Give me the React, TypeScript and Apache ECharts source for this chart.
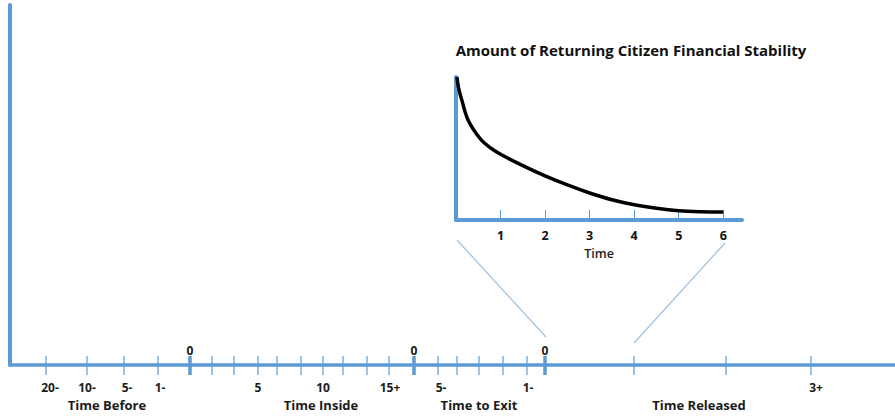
import React, { useEffect, useRef } from "react";
import * as echarts from "echarts";

// Main timeline (units: position along the timeline)
const tickPositions = [36, 77, 114, 148, 180, 202, 224, 248, 267, 291, 313, 333, 357, 379, 404, 428, 447, 469, 493, 517, 535, 624, 716, 801];
const tickMajor = [0, 0, 0, 0, 1, 0, 0, 0, 0, 0, 0, 0, 0, 0, 1, 0, 0, 0, 0, 0, 1, 0, 0, 0];
const tickLabelPositions = [40, 77, 117, 150, 248, 313, 380, 431, 518, 806];
const tickLabels = ["20-", "10-", "5-", "1-", "5", "10", "15+", "5-", "1-", "3+"];
const zeroLabelPositions = [180, 404, 535];
const zeroLabels = ["0", "0", "0"];
const groupLabelPositions = [97, 311, 469, 689];
const groupLabels = ["Time Before", "Time Inside", "Time to Exit", "Time Released"];
const connectorLeft = [[447, 125], [536, 28]];
const connectorRight = [[715, 122], [624, 22]];

// Inset: financial stability over time
const insetTitle = "Amount of Returning Citizen Financial Stability";
const insetTime = [0.02, 0.06, 0.13, 0.27, 0.54, 0.75, 1, 1.5, 2, 2.5, 3, 3.5, 4, 4.5, 5, 5.5, 6];
const insetStability = [10, 9.2, 8.39, 7.0, 5.7, 5.1, 4.6, 3.8, 3.08, 2.45, 1.89, 1.42, 1.07, 0.82, 0.65, 0.58, 0.56];
const insetTicks = [1, 2, 3, 4, 5, 6];

const BLUE = "#5b9bd5";
const FONT = "'Open Sans'";

export default function App() {
  const ref = useRef<HTMLDivElement>(null);
  useEffect(() => {
    const chart = echarts.init(ref.current!, null, { renderer: "svg" });
    const textSeries = (positions: number[], labels: string[], dy: number, size: number) => ({
      type: "custom",
      xAxisIndex: 0,
      yAxisIndex: 0,
      silent: true,
      clip: false,
      data: positions.map((p) => [p, 0]),
      renderItem: (params: any, api: any) => {
        const pt = api.coord([api.value(0), 0]);
        return {
          type: "text",
          x: pt[0],
          y: pt[1] + dy,
          style: {
            text: labels[params.dataIndex],
            fill: "#1a1a1a",
            font: `bold ${size}px ${FONT}`,
            align: "center",
            verticalAlign: "middle",
          },
        };
      },
    });
    chart.setOption({
      animation: false,
      title: {
        text: insetTitle,
        left: 626,
        top: 37,
        textAlign: "center",
        textStyle: { fontFamily: FONT, fontWeight: "bold", fontSize: 15, color: "#111" },
      },
      grid: [
        { left: 10, top: 5, right: 0, bottom: 54 },
        { left: 456, top: 77, width: 286, height: 143 },
      ],
      xAxis: [
        {
          type: "value",
          gridIndex: 0,
          min: 0,
          max: 885,
          axisLine: { show: true, lineStyle: { color: BLUE, width: 3.5 } },
          axisTick: { show: false },
          axisLabel: { show: false },
          splitLine: { show: false },
        },
        {
          type: "value",
          gridIndex: 1,
          min: 0,
          max: 6.42,
          axisLine: { show: true, lineStyle: { color: BLUE, width: 4 } },
          axisTick: { show: true, inside: true, length: 10, customValues: insetTicks, lineStyle: { color: BLUE, width: 1 } },
          axisLabel: {
            show: true,
            customValues: insetTicks,
            margin: 9,
            fontFamily: FONT,
            fontWeight: "bold",
            fontSize: 12.5,
            color: "#111",
          },
          splitLine: { show: false },
          name: "Time",
          nameLocation: "middle",
          nameGap: 27,
          nameTextStyle: { fontFamily: FONT, fontWeight: 600, fontSize: 12.5, color: "#222" },
        },
      ],
      yAxis: [
        {
          type: "value",
          gridIndex: 0,
          min: 0,
          max: 360,
          axisLine: { show: true, lineStyle: { color: BLUE, width: 4 } },
          axisTick: { show: false },
          axisLabel: { show: false },
          splitLine: { show: false },
        },
        {
          type: "value",
          gridIndex: 1,
          min: 0,
          max: 10,
          axisLine: { show: true, lineStyle: { color: BLUE, width: 4 } },
          axisTick: { show: false },
          axisLabel: { show: false },
          splitLine: { show: false },
        },
      ],
      series: [
        {
          type: "line",
          xAxisIndex: 0,
          yAxisIndex: 0,
          data: connectorLeft,
          showSymbol: false,
          silent: true,
          lineStyle: { color: "#9ec0e3", width: 1.2 },
        },
        {
          type: "line",
          xAxisIndex: 0,
          yAxisIndex: 0,
          data: connectorRight,
          showSymbol: false,
          silent: true,
          lineStyle: { color: "#9ec0e3", width: 1.2 },
        },
        {
          type: "custom",
          xAxisIndex: 0,
          yAxisIndex: 0,
          silent: true,
          clip: false,
          data: tickPositions.map((p, i) => [p, tickMajor[i]]),
          renderItem: (params: any, api: any) => {
            const pt = api.coord([api.value(0), 0]);
            const major = api.value(1) === 1;
            return {
              type: "line",
              shape: { x1: pt[0], y1: pt[1] - 9, x2: pt[0], y2: pt[1] + 10 },
              style: { stroke: BLUE, lineWidth: major ? 3.5 : 1.2 },
            };
          },
        },
        textSeries(tickLabelPositions, tickLabels, 22, 12),
        textSeries(zeroLabelPositions, zeroLabels, -15, 12),
        textSeries(groupLabelPositions, groupLabels, 40, 13),
        {
          type: "line",
          xAxisIndex: 1,
          yAxisIndex: 1,
          data: insetTime.map((t, i) => [t, insetStability[i]]),
          smooth: 0.35,
          showSymbol: false,
          silent: true,
          lineStyle: { color: "#000", width: 3.5 },
        },
      ],
    });
    return () => chart.dispose();
  }, []);
  return (
    <div
      ref={ref}
      style={{ position: "fixed", left: 0, top: 0, width: 895, height: 419, background: "#fff" }}
    />
  );
}
